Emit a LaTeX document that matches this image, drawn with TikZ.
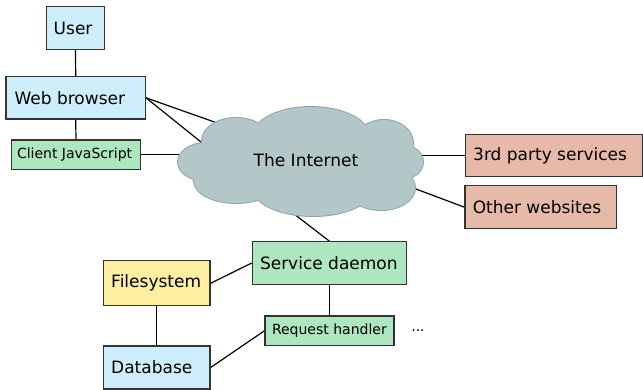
\documentclass[tikz,border=0pt]{standalone}
\usepackage{fontspec}
\setmainfont{DejaVu Sans}
\definecolor{bordercol}{HTML}{333333}
\definecolor{bluefill}{HTML}{CDEEFA}
\definecolor{greenfill}{HTML}{AEE6C0}
\definecolor{yellowfill}{HTML}{FDEEA2}
\definecolor{salmonfill}{HTML}{E6B9A9}
\definecolor{cloudfill}{HTML}{B3C6C8}
\definecolor{cloudedge}{HTML}{8DA8AA}
\newcommand{\lefttext}[2]{\makebox[#1][l]{#2}}
\pgfdeclarelayer{background}
\pgfsetlayers{background,main}
\tikzset{
  box/.style={draw=bordercol, line width=1.2pt, inner xsep=0pt, inner ysep=0pt},
  bigtext/.style={font=\fontsize{17}{20}\selectfont},
  smalltext/.style={font=\fontsize{14}{16}\selectfont},
  link/.style={draw=black, line width=1.2pt},
}
\begin{document}
\begin{tikzpicture}[x=1pt,y=-1pt]
\useasboundingbox (0,0) rectangle (643,390);

% endpoints hidden behind the cloud
\coordinate (c-wb1) at (220,124);
\coordinate (c-wb2) at (206,146);
\coordinate (c-js) at (192,154.7);
\coordinate (c-tp) at (410,155.7);
\coordinate (c-ow) at (400,183);
\coordinate (c-sd) at (285,207);

% boxes
\node[box, bigtext, fill=bluefill, minimum width=57.6pt, minimum height=42.6pt] (user) at (75.5,28) {\lefttext{43.6pt}{User}};
\node[box, bigtext, fill=bluefill, minimum width=139.3pt, minimum height=42.3pt] (wb) at (75.7,97.8) {\lefttext{122.3pt}{Web browser}};
\node[box, smalltext, fill=greenfill, minimum width=128.6pt, minimum height=29.3pt] (js) at (76,154.7) {\lefttext{118pt}{Client JavaScript}};
\node[box, bigtext, fill=salmonfill, minimum width=177pt, minimum height=42pt] (tp) at (554.2,155.7) {\lefttext{162pt}{3rd party services}};
\node[box, bigtext, fill=salmonfill, minimum width=151.7pt, minimum height=43pt] (ow) at (540.8,207.2) {\lefttext{136pt}{Other websites}};
\node[box, bigtext, fill=greenfill, minimum width=154.4pt, minimum height=42.3pt] (sd) at (329.5,263) {\lefttext{139pt}{Service daemon}};
\node[box, bigtext, fill=yellowfill, minimum width=106.7pt, minimum height=45pt] (fs) at (156.7,283.3) {\lefttext{91pt}{Filesystem}};
\node[box, smalltext, fill=greenfill, minimum width=129pt, minimum height=29.7pt] (rh) at (329.5,330.8) {\lefttext{115pt}{Request handler}};
\node[box, bigtext, fill=bluefill, minimum width=106.7pt, minimum height=43pt] (db) at (156.7,367.5) {\lefttext{91pt}{Database}};
\node[smalltext, inner sep=0pt] (more) at (418,331) {...};

% connectors, kept behind the boxes and the cloud
\begin{pgfonlayer}{background}
\path[link] (user.south) -- (wb.north);
\path[link] (wb.south) -- (js.north);
\path[link] (wb.east) -- (c-wb1);
\path[link] (wb.east) -- (c-wb2);
\path[link] (js.east) -- (c-js);
\path[link] (tp.west) -- (c-tp);
\path[link] (ow.west) -- (c-ow);
\path[link] (sd.north) -- (c-sd);
\path[link] (fs.east) -- (sd.west);
\path[link] (sd.south) -- (rh.north);
\path[link] (fs.south) -- (db.north);
\path[link] (db.east) -- (rh.west);
\end{pgfonlayer}

% the cloud: outline of every puff, then the fill over it
\def\cloudpuffs{
  (311,136) ellipse [x radius=58, y radius=29]
  (236,141) ellipse [x radius=34, y radius=23]
  (384,143) ellipse [x radius=29, y radius=23]
  (402,162) ellipse [x radius=21, y radius=17]
  (381,188) ellipse [x radius=34, y radius=22]
  (313,188) ellipse [x radius=60, y radius=28]
  (236,181) ellipse [x radius=42, y radius=22]
  (206,162) ellipse [x radius=28, y radius=19]
  (306,162) ellipse [x radius=95, y radius=40]
}
\draw[cloudedge, line width=2pt] \cloudpuffs;
\fill[cloudfill] \cloudpuffs;
\node[bigtext, inner sep=0pt] (net) at (306,160) {The Internet};
\end{tikzpicture}
\end{document}
